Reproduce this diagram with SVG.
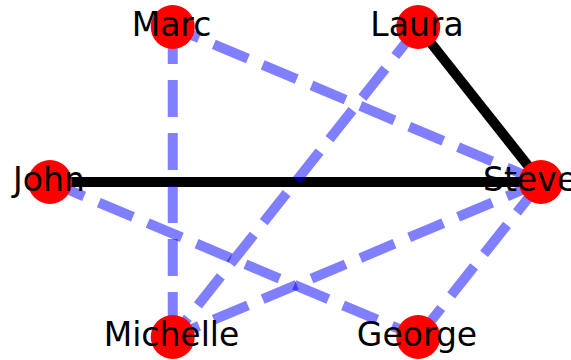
<svg xmlns="http://www.w3.org/2000/svg" width="571" height="360" viewBox="0 0 571 360">
<style>
.solid{stroke:#000;stroke-width:10;fill:none}
.dash{stroke:#0000ff;stroke-opacity:0.5;stroke-width:10;stroke-dasharray:37 16;fill:none}
.node circle{fill:#ff0000}
.node text{font-family:"DejaVu Sans",sans-serif;font-size:33px;fill:#000;text-anchor:middle}
</style>
<rect width="571" height="360" fill="#fff"/>
<g id="connectors">
<line class="solid" x1="418.25" y1="27" x2="541" y2="182"/>
<line class="solid" x1="50" y1="182" x2="541" y2="182"/>
<line class="dash" x1="172.75" y1="27" x2="172.75" y2="337"/>
<line class="dash" x1="541" y1="182" x2="172.75" y2="27"/>
<line class="dash" x1="418.25" y1="27" x2="172.75" y2="337"/>
<line class="dash" x1="50" y1="182" x2="418.25" y2="337"/>
<line class="dash" x1="541" y1="182" x2="172.75" y2="337"/>
<line class="dash" x1="418.25" y1="337" x2="541" y2="182"/>
</g>
<g id="Marc" class="node"><circle cx="172.75" cy="27" r="22"/><text x="171.5" y="36.2">Marc</text></g>
<g id="Laura" class="node"><circle cx="418.25" cy="27" r="22"/><text x="417" y="36.2">Laura</text></g>
<g id="John" class="node"><circle cx="50" cy="182" r="22"/><text x="49" y="191.2">John</text></g>
<g id="Steve" class="node"><circle cx="541" cy="182" r="22"/><text x="530" y="191.2">Steve</text></g>
<g id="Michelle" class="node"><circle cx="172.75" cy="337" r="22"/><text x="171.5" y="346.2">Michelle</text></g>
<g id="George" class="node"><circle cx="418.25" cy="337" r="22"/><text x="417" y="346.2">George</text></g>
</svg>
